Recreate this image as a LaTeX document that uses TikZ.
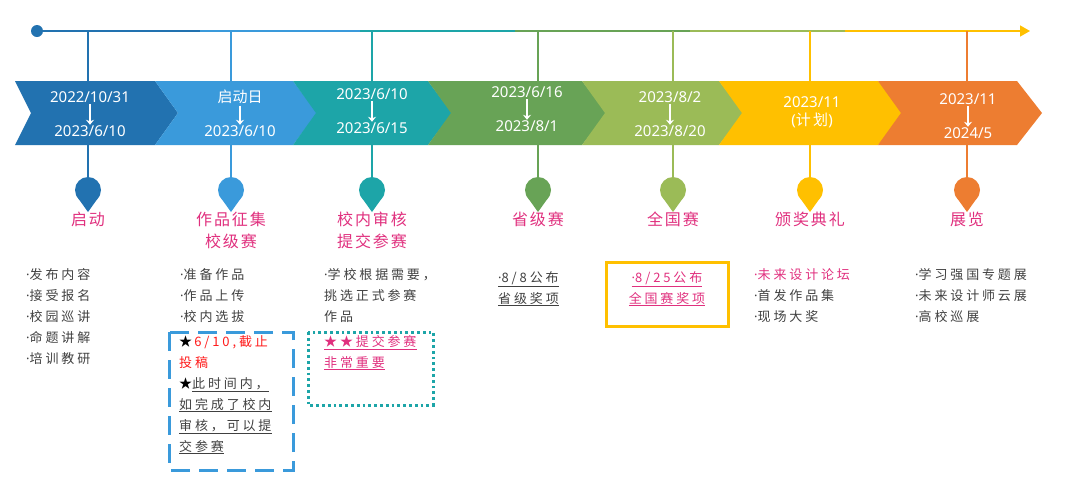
\documentclass[tikz,border=0pt]{standalone}
\usepackage{fontspec}
\setmainfont{Noto Sans CJK SC}
\newfontfamily\datef{Noto Sans}
\newfontfamily\lst[LetterSpace=22]{Noto Sans CJK SC}
\newfontfamily\ttl[LetterSpace=12]{Noto Sans CJK SC}
\newcommand{\bul}{{\datef·}}
\usetikzlibrary{arrows.meta}
\definecolor{cA}{HTML}{2272B0}
\definecolor{cB}{HTML}{3A9ADB}
\definecolor{cC}{HTML}{1DA5A8}
\definecolor{cD}{HTML}{68A356}
\definecolor{cE}{HTML}{9BBB57}
\definecolor{cF}{HTML}{FFC000}
\definecolor{cG}{HTML}{ED7D31}
\definecolor{pk}{HTML}{E0307E}
\definecolor{gy}{HTML}{404040}
\definecolor{rd}{HTML}{FF1A1A}
\begin{document}
\begin{tikzpicture}[x=1pt,y=-1pt,
  date/.style={text=white,font=\datef\fontsize{15}{17}\selectfont,inner sep=0pt},
  title/.style={text=pk,font=\ttl\fontsize{16}{22}\selectfont,align=center,inner sep=0pt,anchor=north},
  item/.style={text=gy,font=\lst\fontsize{13}{21}\selectfont,align=left,anchor=north west,inner sep=0pt},
  darr/.style={white,line width=1.6pt,-{Stealth[length=5pt,width=8pt]}},
  tl/.style={line width=1.4pt},
  stem/.style={line width=1.2pt}]
\useasboundingbox (0,0) rectangle (1080,491);
% timeline
\fill[cA] (37,31) circle (6);
\coordinate (t0) at (37,31);
\coordinate (t1) at (200,31);
\coordinate (t2) at (360,31);
\coordinate (t3) at (515,31);
\coordinate (t4) at (690,31);
\coordinate (t5) at (845,31);
\coordinate (tend) at (1030,31);
\draw[cA,tl] (t0) -- (t1);
\draw[cB,tl] (t1) -- (t2);
\draw[cC,tl] (t2) -- (t3);
\draw[cD,tl] (t3) -- (t4);
\draw[cE,tl] (t4) -- (t5);
\draw[cF,tl,-{Triangle[length=10pt,width=11pt]}] (t5) -- (tend);
% chevrons
\foreach \a/\b/\t/\c [count=\i] in {15/155/178/cA,155/293/317/cB,293/428/452/cC,428/582/607/cD,582/719/744/cE,719/878/906/cF,878/1017/1042/cG}{
  \ifnum\i=1
    \fill[\c] (\a,81) -- (\b,81) -- (\t,113) -- (\b,145) -- (\a,145) -- (\a+16,113) -- cycle;
  \else
    \fill[\c] (\a,81) -- (\b,81) -- (\t,113) -- (\b,145) -- (\a,145) -- (\a+23,113) -- cycle;
  \fi
}
% stems and pins
\foreach \x/\c [count=\i] in {88/cA,231/cB,372/cC,538/cD,673/cE,810/cF,967/cG}{
  \draw[\c,stem] (\x,31) -- (\x,81);
  \draw[\c,stem] (\x,145) -- (\x,180);
  \fill[\c] (\x,190) circle (13);
  \fill[\c] (\x-11.8,195.5) -- (\x,212) -- (\x+11.8,195.5) -- cycle;
}
% dates
\node[date] (d1a) at (90,97) {2022/10/31};
\node[date] (d1b) at (90,131) {2023/6/10};
\node[date] (d2a) at (240,97) {\rmfamily 启动日};
\node[date] (d2b) at (240,131) {2023/6/10};
\node[date] (d3a) at (372,94) {2023/6/10};
\node[date] (d3b) at (372,128) {2023/6/15};
\node[date] (d4a) at (527,92) {2023/6/16};
\node[date] (d4b) at (527,126) {2023/8/1};
\node[date] (d5a) at (670,97) {2023/8/2};
\node[date] (d5b) at (670,131) {2023/8/20};
\node[date] (d6a) at (812,102) {2023/11};
\node[date] (d6b) at (812,120) {({\rmfamily 计\,划})};
\node[date] (d7a) at (968,99) {2023/11};
\node[date] (d7b) at (968,133) {2024/5};
\foreach \n in {1,2,3,4,5,7}{
  \draw[darr] ([yshift=-1.5pt]d\n a.south) -- ([yshift=0.5pt]d\n b.north);
}
% titles
\node[title] (h1) at (88,212) {启动};
\node[title] (h2) at (231,212) {作品征集\\校级赛};
\node[title] (h3) at (372,212) {校内审核\\提交参赛};
\node[title] (h4) at (538,212) {省级赛};
\node[title] (h5) at (673,212) {全国赛};
\node[title] (h6) at (810,212) {颁奖典礼};
\node[title] (h7) at (967,212) {展览};
% lists
\node[item] (l1) at (26,268) {\bul 发布内容\\\bul 接受报名\\\bul 校园巡讲\\\bul 命题讲解\\\bul 培训教研};
\node[item] (l2) at (180,268) {\bul 准备作品\\\bul 作品上传\\\bul 校内选拔};
\node[item] (l2b) at (179,335) {{\color{black}★}\,{\color{rd}6/10,截止}\\{\color{rd}投稿}\\{\color{black}★}\underline{此时间内，}\\\underline{如完成了校内}\\\underline{审核，可以提}\\\underline{交参赛}};
\node[item] (l3) at (324,268) {\bul 学校根据需要，\\挑选正式参赛\\作品};
\node[item,text=pk] (l3b) at (324,335) {\underline{★★提交参赛}\\\underline{非常重要}};
\node[item] (l4) at (498,271) {\underline{\bul 8/8公布}\\\underline{省级奖项}};
\node[item,text=pk,anchor=north,align=center] (l5) at (667,271) {\underline{\bul 8/25公布}\\\underline{全国赛奖项}};
\node[item] (l6) at (754,268) {{\color{pk}\bul 未来设计论坛}\\\bul 首发作品集\\\bul 现场大奖};
\node[item] (l7) at (915,268) {\bul 学习强国专题展\\\bul 未来设计师云展\\\bul 高校巡展};
% boxes
\draw[cB,line width=3pt,dash pattern=on 19pt off 9pt] (169,332) rectangle (293,470);
\draw[cC,line width=3pt,dash pattern=on 2.8pt off 3pt] (308,332) rectangle (433,405);
\draw[cF,line width=3pt] (606,262) rectangle (728,326);
\end{tikzpicture}
\end{document}
